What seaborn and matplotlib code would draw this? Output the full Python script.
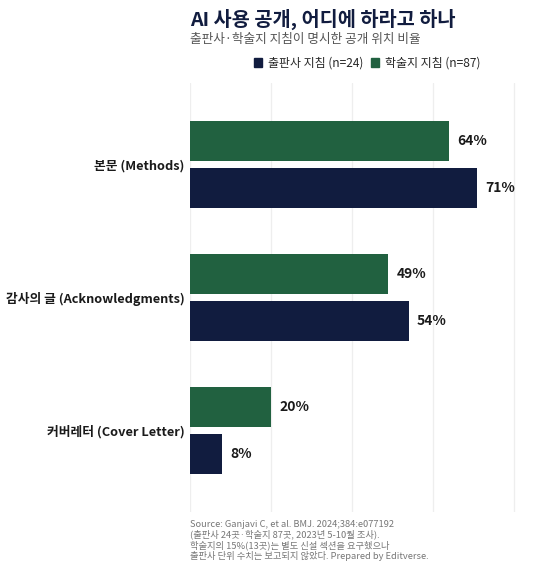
import matplotlib
matplotlib.use("Agg")
import matplotlib.pyplot as plt
from matplotlib.patches import Patch
import seaborn as sns
import pandas as pd

# data
categories = ["본문 (Methods)", "감사의 글 (Acknowledgments)", "커버레터 (Cover Letter)"]
journal_pct = [64, 49, 20]      # 학술지 지침 (n=87)
publisher_pct = [71, 54, 8]     # 출판사 지침 (n=24)
series_names = ["학술지 지침 (n=87)", "출판사 지침 (n=24)"]

NAVY = "#111c3f"
GREEN = "#216140"

df = pd.DataFrame({
    "category": categories * 2,
    "series": [series_names[0]] * 3 + [series_names[1]] * 3,
    "pct": journal_pct + publisher_pct,
})

sns.set_theme(style="white")
plt.rcParams["font.family"] = ["Noto Sans CJK KR", "DejaVu Sans"]

fig = plt.figure(figsize=(5.6, 5.71), dpi=100)
ax = fig.add_axes([0.3393, 0.1033, 0.636, 0.7513])

sns.barplot(data=df, y="category", x="pct", hue="series", orient="h",
            hue_order=series_names, palette=[GREEN, NAVY], saturation=1,
            width=0.71, gap=0.15, linewidth=0, legend=False, ax=ax)

for cont in ax.containers:
    ax.bar_label(cont, fmt="%d%%", padding=6, fontsize=10, fontweight="bold", color="#1a1a1a")

ax.set_xlim(0, 88)
ax.set_ylim(2.61, -0.61)
ax.set_xticks([0, 20, 40, 60, 80])
ax.set_xticklabels([])
ax.tick_params(axis="both", length=0)
ax.tick_params(axis="y", labelsize=9.2, pad=4)
for lab in ax.get_yticklabels():
    lab.set_fontweight("bold")
    lab.set_color("#1a1a1a")
ax.set_xlabel("")
ax.set_ylabel("")
ax.xaxis.grid(True, color="#eeeeee", linewidth=0.9)
ax.set_axisbelow(True)
sns.despine(ax=ax, left=True, bottom=True)

# title / subtitle
fig.text(190 / 560, 1 - 19 / 571, "AI 사용 공개, 어디에 하라고 하나", fontsize=14.2,
         fontweight="bold", color=NAVY, ha="left", va="center")
fig.text(190 / 560, 1 - 40 / 571, "출판사·학술지 지침이 명시한 공개 위치 비율", fontsize=9.1,
         color="#555555", ha="left", va="center")

# legend: publisher first like the reference
handles = [Patch(color=NAVY), Patch(color=GREEN)]
fig.legend(handles, [series_names[1], series_names[0]], loc="center",
           bbox_to_anchor=(367 / 560, 1 - 63 / 571), ncol=2, frameon=False,
           fontsize=8.6, handlelength=0.7, handleheight=0.7, handletextpad=0.5,
           columnspacing=0.6)

footer = ("Source: Ganjavi C, et al. BMJ. 2024;384:e077192\n"
          "(출판사 24곳·학술지 87곳, 2023년 5-10월 조사).\n"
          "학술지의 15%(13곳)는 별도 신설 섹션을 요구했으나\n"
          "출판사 단위 수치는 보고되지 않았다. Prepared by Editverse.")
fig.text(190 / 560, 1 - 520 / 571, footer, fontsize=6.7, color="#777777",
         ha="left", va="top", linespacing=1.12)

fig.savefig("out.png", dpi=100)
